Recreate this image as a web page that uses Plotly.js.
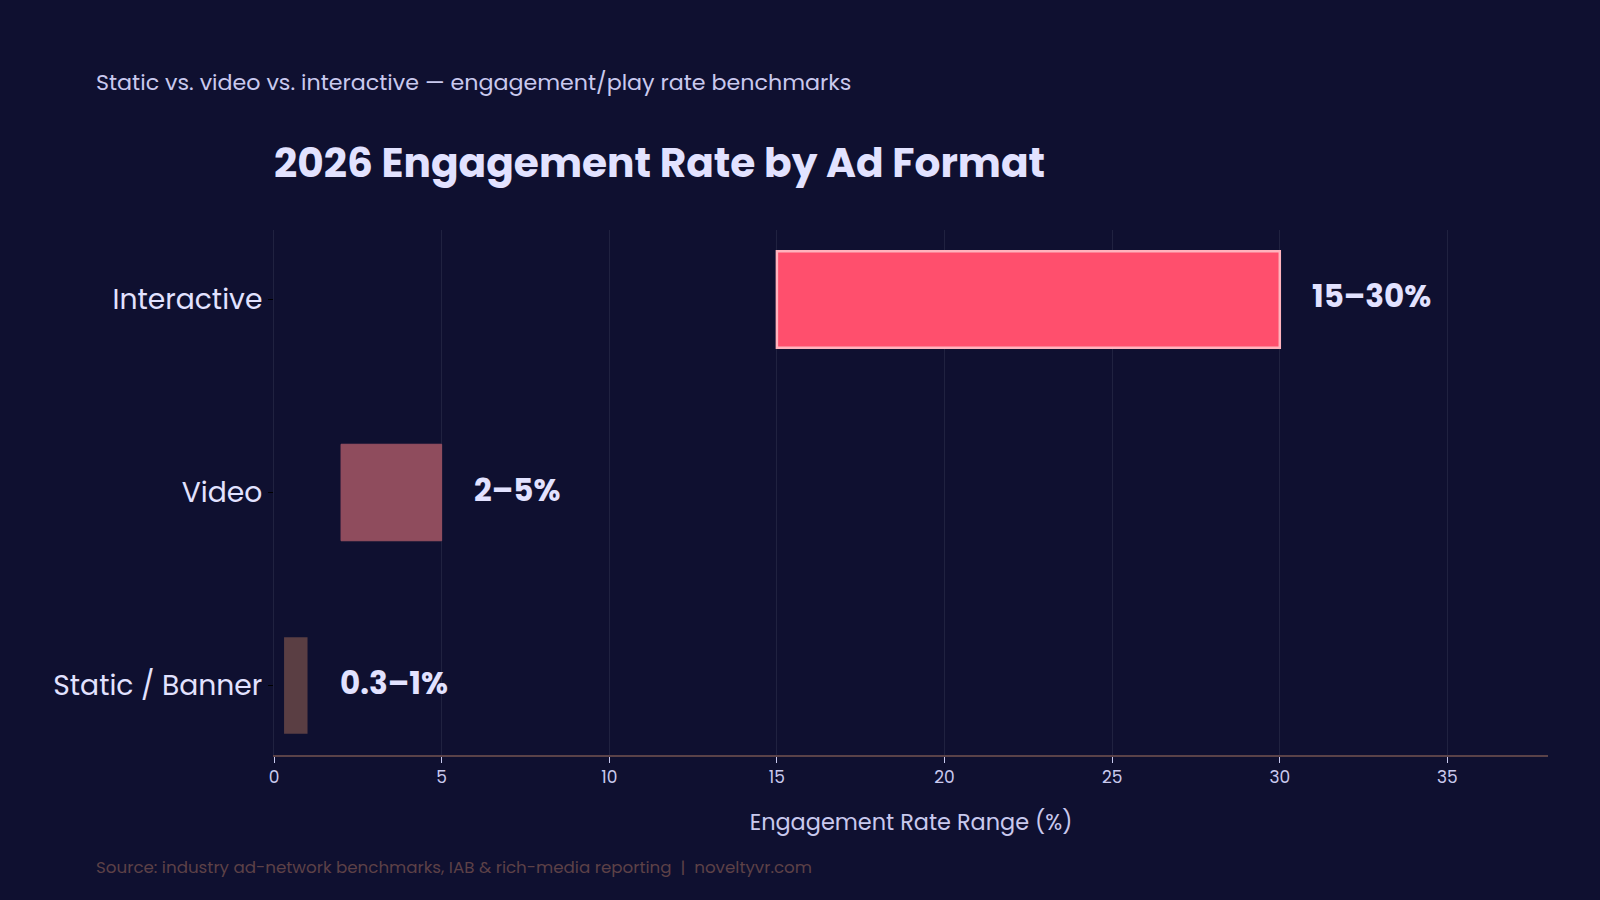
<!DOCTYPE html>
<html>
<head>
<meta charset="utf-8">
<script src="https://cdn.plot.ly/plotly-3.0.1.min.js"></script>
<style>
html,body{margin:0;padding:0;background:#0f1030;}
#chart{width:1600px;height:900px;}
</style>
</head>
<body>
<div id="chart"></div>
<script>
const categories = ["Static / Banner", "Video", "Interactive"];
const rangeLow = [0.3, 2, 15];
const rangeHigh = [1, 5, 30];
const rangeLabels = ["0.3–1%", "2–5%", "15–30%"];
const barColors = ["#5a3e43", "#8f4c5d", "#ff4f6d"];
const barBorders = ["#5e4248", "#954f61", "#ffb3bd"];
const borderWidths = [0, 1, 2.5];
const xTicks = [0, 5, 10, 15, 20, 25, 30, 35];

const FONT = "Poppins, Inter, 'Open Sans', sans-serif";

const widths = rangeHigh.map((h, i) => h - rangeLow[i]);

const trace = {
  type: "bar",
  orientation: "h",
  y: categories,
  x: widths,
  base: rangeLow,
  width: 0.5,
  marker: {color: barColors, line: {color: barBorders, width: borderWidths}},
  hoverinfo: "skip"
};

const annotations = categories.map((c, i) => ({
  x: rangeHigh[i], y: c, xref: "x", yref: "y",
  text: "<b>" + rangeLabels[i] + "</b>",
  showarrow: false, xanchor: "left", yanchor: "middle", xshift: 30, yshift: 3,
  font: {family: FONT, size: 31, color: "#e2e2ff"}
}));

annotations.push({
  xref: "paper", yref: "paper", x: -0.141, y: 1.281, xanchor: "left", yanchor: "middle",
  text: "Static vs. video vs. interactive — engagement/play rate benchmarks",
  showarrow: false, font: {family: FONT, size: 22.2, color: "#c9c9ee"}
});
annotations.push({
  xref: "paper", yref: "paper", x: -0.141, y: -0.213, xanchor: "left", yanchor: "middle",
  text: "Source: industry ad-network benchmarks, IAB &amp; rich-media reporting  |  noveltyvr.com",
  showarrow: false, font: {family: FONT, size: 16.7, color: "#5d4147"}
});

const layout = {
  width: 1600, height: 900,
  paper_bgcolor: "#0f1030", plot_bgcolor: "#0f1030",
  margin: {l: 274, r: 52, t: 230, b: 145},
  title: {
    text: "<b>2026 Engagement Rate by Ad Format</b>",
    x: 0, xref: "paper", xanchor: "left", y: 0.819, yanchor: "middle",
    font: {family: FONT, size: 40.7, color: "#e2e2ff"}
  },
  showlegend: false,
  xaxis: {
    range: [0, 38], tickvals: xTicks, ticktext: xTicks.map(String),
    showgrid: true, gridcolor: "#202240", gridwidth: 1, zeroline: false,
    showline: true, linecolor: "#5a4248", linewidth: 1.5,
    ticks: "outside", ticklen: 6, tickcolor: "#c9c9ee",
    tickfont: {family: FONT, size: 17, color: "#c9c9ee"},
    title: {text: "Engagement Rate Range (%)", standoff: 26, font: {family: FONT, size: 22.4, color: "#c9c9ee"}}
  },
  yaxis: {
    categoryorder: "array", categoryarray: categories,
    range: [-0.36, 2.36],
    showgrid: false, zeroline: false, showline: true, linecolor: "#202240", linewidth: 1,
    ticks: "outside", ticklen: 5, tickcolor: "#000000",
    tickfont: {family: FONT, size: 28.2, color: "#e2e2ff"}
  },
  annotations: annotations
};

Plotly.newPlot("chart", [trace], layout, {displayModeBar: false, staticPlot: true});
</script>
</body>
</html>
